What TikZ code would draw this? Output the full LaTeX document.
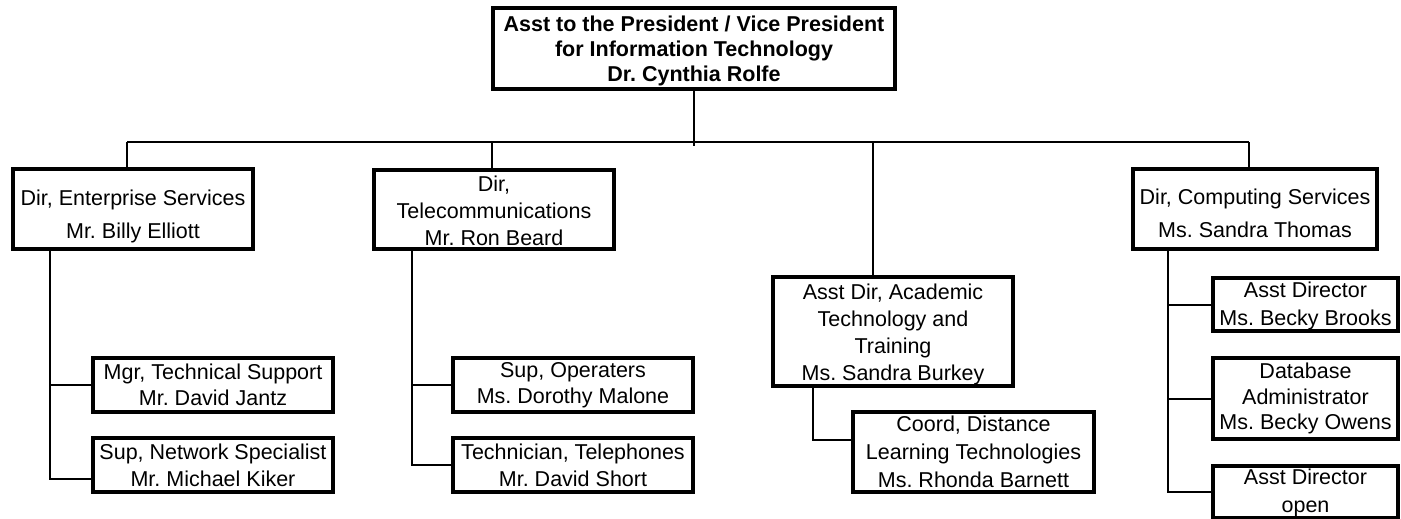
\documentclass[tikz,border=0pt]{standalone}
\usepackage{fontspec}
\setmainfont{Liberation Sans}
\begin{document}
\frenchspacing
\begin{tikzpicture}[x=1pt,y=-1pt,
  box/.style={draw, line width=3.8pt, align=center, inner sep=0pt},
  fs/.style={font=\fontsize{21.5}{#1}\selectfont\frenchspacing},
  conn/.style={line width=2pt}]
\useasboundingbox (0,0) rectangle (1401,519);
% top
\node[box, fs=25, minimum width=402pt, minimum height=81pt] (top) at (694,48.5)
  {\rule{0pt}{20pt}\bfseries Asst to the President / Vice President\\\bfseries for Information Technology\\\bfseries Dr. Cynthia Rolfe};
% directors
\node[box, fs=33, minimum width=240pt, minimum height=80pt] (es) at (133,209)
  {\rule{0pt}{31pt}Dir, Enterprise Services\\Mr. Billy Elliott};
\node[box, fs=27, minimum width=240pt, minimum height=79pt] (tc) at (494,209.5)
  {\rule{0pt}{18pt}Dir,\\Telecommunications\\Mr. Ron Beard};
\node[box, fs=27, minimum width=240pt, minimum height=109pt] (ad) at (893,331.5)
  {\rule{0pt}{22pt}Asst Dir, Academic\\Technology and\\Training\\Ms. Sandra Burkey};
\node[box, fs=33, minimum width=244pt, minimum height=80pt] (cs) at (1255,209)
  {\rule{0pt}{25pt}Dir, Computing Services\\Ms. Sandra Thomas};
% subordinates
\node[box, fs=26, minimum width=240pt, minimum height=54pt] (mgr) at (213,385)
  {Mgr, Technical Support\\Mr. David Jantz};
\node[box, fs=27, minimum width=240pt, minimum height=54pt] (sns) at (213,465)
  {Sup, Network Specialist\\Mr. Michael Kiker};
\node[box, fs=26, minimum width=240pt, minimum height=54pt] (sop) at (573,385)
  {Sup, Operaters\\Ms. Dorothy Malone};
\node[box, fs=27, minimum width=240pt, minimum height=54pt] (tel) at (573,465)
  {Technician, Telephones\\Mr. David Short};
\node[box, fs=28, minimum width=241pt, minimum height=80pt] (coord) at (973.5,452)
  {Coord, Distance\\Learning Technologies\\Ms. Rhonda Barnett};
\node[box, fs=28, minimum width=185pt, minimum height=53pt] (ab) at (1305.5,304.5)
  {\rule{0pt}{18pt}Asst Director\\Ms. Becky Brooks};
\node[box, fs=25.5, minimum width=185pt, minimum height=81pt] (db) at (1305.5,398.5)
  {Database\\Administrator\\Ms. Becky Owens};
\node[box, fs=28, minimum width=185pt, minimum height=52pt] (ao) at (1305.5,492)
  {\rule{0pt}{18pt}Asst Director\\open};
% bus
\coordinate (b1) at (127,142);
\coordinate (b2) at (492,142);
\coordinate (b3) at (873,142);
\coordinate (b4) at (1249,142);
\coordinate (tb) at (694,146);
\draw[conn] (top.south) -- (tb);
\draw[conn] (b1) -- (b4);
\draw[conn] (b1) -- (b1 |- es.north);
\draw[conn] (b2) -- (b2 |- tc.north);
\draw[conn] (b3) -- (b3 |- ad.north);
\draw[conn] (b4) -- (b4 |- cs.north);
% enterprise spine
\coordinate (s1) at (50,249);
\draw[conn] (s1) |- ([yshift=-14pt]sns.west);
\draw[conn] (s1 |- mgr.west) -- (mgr.west);
% telecom spine
\coordinate (s2) at (412,249);
\draw[conn] (s2) |- (tel.west);
\draw[conn] (s2 |- sop.west) -- (sop.west);
% academic
\coordinate (s3) at (813,386);
\draw[conn] (s3) |- ([yshift=12pt]coord.west);
% computing spine
\coordinate (s4) at (1168,249);
\draw[conn] (s4) |- (ao.west);
\draw[conn] (s4 |- ab.west) -- (ab.west);
\draw[conn] (s4 |- db.west) -- (db.west);
\end{tikzpicture}
\end{document}
